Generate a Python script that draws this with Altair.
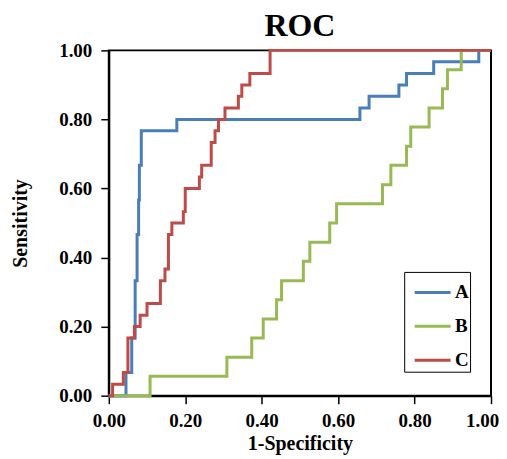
import altair as alt
import pandas as pd

# ROC curve points (1-Specificity, Sensitivity)
a_fpr = [0.0, 0.045, 0.06, 0.069, 0.074, 0.078, 0.08, 0.085, 0.178, 0.657, 0.681, 0.759, 0.779, 0.85, 0.968, 1.0]
a_tpr = [0.0, 0.067, 0.167, 0.333, 0.467, 0.567, 0.667, 0.767, 0.8, 0.833, 0.867, 0.9, 0.933, 0.967, 1.0, 1.0]

b_fpr = [0.0, 0.108, 0.309, 0.374, 0.404, 0.439, 0.452, 0.509, 0.526, 0.578, 0.596, 0.716, 0.738, 0.779, 0.79, 0.838, 0.873, 0.886, 0.922, 1.0]
b_tpr = [0.0, 0.056, 0.111, 0.167, 0.222, 0.278, 0.333, 0.389, 0.444, 0.5, 0.556, 0.611, 0.667, 0.722, 0.778, 0.833, 0.889, 0.944, 1.0, 1.0]

c_fpr = [0.0, 0.01, 0.038, 0.05, 0.067, 0.082, 0.10, 0.135, 0.147, 0.156, 0.165, 0.195, 0.2, 0.237, 0.243, 0.268, 0.278, 0.287, 0.304, 0.339, 0.348, 0.369, 0.422, 1.0]
c_tpr = [0.0, 0.033, 0.067, 0.167, 0.2, 0.233, 0.267, 0.333, 0.367, 0.467, 0.5, 0.533, 0.6, 0.633, 0.667, 0.733, 0.767, 0.8, 0.833, 0.867, 0.9, 0.933, 1.0, 1.0]

series = ["A", "B", "C"]
colors = ["#4a7ebb", "#98b954", "#be4b48"]
ticks = [0.0, 0.2, 0.4, 0.6, 0.8, 1.0]

rows = []
for name, xs, ys in zip(series, [a_fpr, b_fpr, c_fpr], [a_tpr, b_tpr, c_tpr]):
    for i, (x, y) in enumerate(zip(xs, ys)):
        rows.append({"series": name, "fpr": x, "tpr": y, "idx": i})
df = pd.DataFrame(rows)

FONT = "Liberation Serif"

chart = alt.Chart(df).mark_line(interpolate="step-after", strokeWidth=3).encode(
    x=alt.X("fpr:Q", scale=alt.Scale(domain=[0, 1], nice=False),
            axis=alt.Axis(values=ticks, format=".2f", title="1-Specificity",
                          labelFlush=False, tickSize=8, labelPadding=8, titlePadding=3,
                          labelOffset={"condition": {"test": "datum.value >= 1", "value": -9},
                                       "value": 0})),
    y=alt.Y("tpr:Q", scale=alt.Scale(domain=[0, 1], nice=False),
            axis=alt.Axis(values=ticks, format=".2f", title="Sensitivity",
                          labelFlush=False, tickSize=8, labelPadding=9, titlePadding=28)),
    color=alt.Color("series:N", scale=alt.Scale(domain=series, range=colors),
                    legend=alt.Legend(title=None, orient="none", legendX=296, legendY=222,
                                      symbolType="stroke", symbolStrokeWidth=3, symbolSize=1296,
                                      symbolOffset=8,
                                      labelFont=FONT, labelFontSize=19, labelFontWeight="bold",
                                      labelColor="black", strokeColor="black", padding=1,
                                      rowPadding=4, labelOffset=3)),
    order="idx:Q",
).properties(
    width=383, height=346,
    title=alt.TitleParams("ROC", font=FONT, fontSize=32, fontWeight="bold", color="black",
                          anchor="middle", offset=-2),
    autosize=alt.AutoSizeParams(type="none"),
    padding={"left": 101, "top": 42, "right": 8, "bottom": 63},
).configure_view(
    stroke="black", strokeWidth=2
).configure_axis(
    labelFont=FONT, labelFontSize=19, labelFontWeight="bold", labelColor="black",
    titleFont=FONT, titleFontSize=20, titleFontWeight="bold", titleColor="black",
    domainColor="black", domainWidth=2, tickColor="black", tickWidth=1.5,
    grid=False,
)

chart.save("out.html", embed_options={"renderer": "svg", "actions": False})
